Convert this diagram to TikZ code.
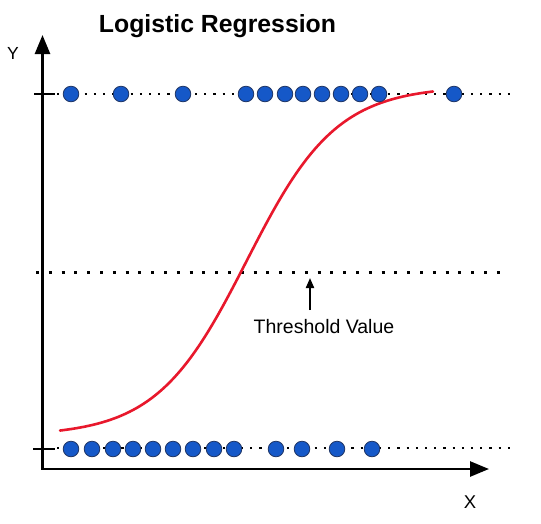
\documentclass[tikz,border=0pt]{standalone}
\usepackage{fontspec}
\setmainfont{Liberation Sans}
\usetikzlibrary{arrows.meta}
\definecolor{dotblue}{HTML}{1558C8}
\definecolor{dotedge}{HTML}{1E3566}
\definecolor{curvered}{HTML}{E8182C}
\tikzset{
  dot/.style={circle, minimum size=15.6pt, inner sep=0pt, fill=dotblue, draw=dotedge, line width=0.8pt},
  axis/.style={line width=2.6pt, -{Triangle[length=19pt,width=15pt]}},
  tickmark/.style={line width=2pt},
  rowline/.style={line width=2.2pt, dash pattern=on 2.2pt off 7pt},
  threshline/.style={line width=3pt, dash pattern=on 3pt off 9.8pt},
  label/.style={inner sep=0pt, anchor=base},
}
\begin{document}
\begin{tikzpicture}[x=1pt, y=-1pt]
\useasboundingbox (0,0) rectangle (541,523);
\fill[white] (0,0) rectangle (541,523);

% title and labels
\node[label, font=\fontsize{24.8}{28}\selectfont\bfseries] (title) at (217.5,32) {Logistic Regression};
\node[label, font=\fontsize{17.5}{20}\selectfont] (ylab) at (13,59.5) {Y};
\node[label, font=\fontsize{18.5}{21}\selectfont] (xlab) at (470,508) {X};
\node[label, font=\fontsize{19.5}{22}\selectfont] (thr) at (324,333) {Threshold Value};

% coordinates
\coordinate (origin) at (42.5,469);
\coordinate (ytip) at (42.5,35);
\coordinate (xtip) at (489,469);
\coordinate (ttickL) at (34,94);
\coordinate (ttickR) at (55,94);
\coordinate (btickL) at (33,449);
\coordinate (btickR) at (55,449);
\coordinate (trowL) at (57,94);
\coordinate (trowR) at (511,94);
\coordinate (browL) at (57,448);
\coordinate (browR) at (513,448);
\coordinate (thL) at (36,272);
\coordinate (thR) at (506,272);
\coordinate (arrS) at (310,310);
\coordinate (arrT) at (310,278);

% dotted lines
\draw[rowline] (trowL) -- (trowR);
\draw[rowline] (browL) -- (browR);
\draw[threshline] (thL) -- (thR);

% axes and ticks
\draw[axis] (origin) -- (ytip);
\draw[axis] ([xshift=-1.3pt]origin) -- (xtip);
\draw[tickmark] (ttickL) -- (ttickR);
\draw[tickmark] (btickL) -- (btickR);

% threshold arrow
\draw[line width=2pt, -{Triangle[length=10pt,width=8pt]}] (arrS) -- (arrT);

% logistic curve
\draw[curvered, line width=2.6pt, line cap=round]
  plot[domain=60:433, samples=90, smooth] (\x, {436-350/(1+exp(-0.0222*(\x-246.6)))});

% top row dots
\foreach \x [count=\i] in {71,121,183,246,265,285,303,322,341,360,379,454}
  \node[dot] (t\i) at (\x,94) {};
% bottom row dots
\foreach \x [count=\i] in {71,92,113,133,153,173,193,214,234,276,302,337,372}
  \node[dot] (b\i) at (\x,449) {};
\end{tikzpicture}
\end{document}
